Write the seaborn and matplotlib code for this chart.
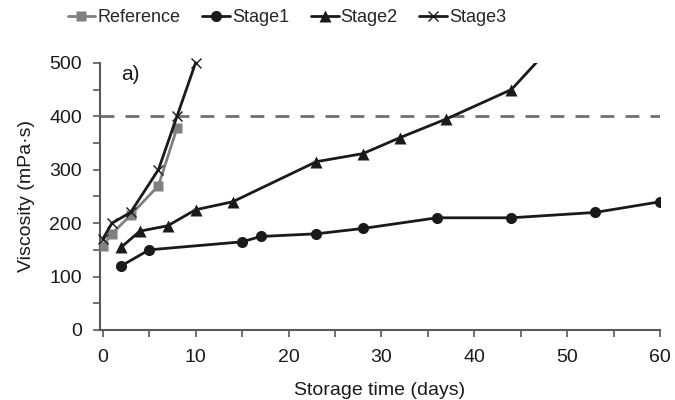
import matplotlib
matplotlib.use("Agg")
import matplotlib.pyplot as plt
import pandas as pd
import seaborn as sns

# valori
ref_days = [0, 1, 3, 6, 8]
ref_visc = [158, 180, 215, 270, 378]

s1_days = [2, 5, 15, 17, 23, 28, 36, 44, 53, 60]
s1_visc = [120, 150, 165, 175, 180, 190, 210, 210, 220, 240]

s2_days = [2, 4, 7, 10, 14, 23, 28, 32, 37, 44, 53]
s2_visc = [155, 185, 195, 225, 240, 315, 330, 360, 395, 450, 620]

s3_days = [0, 1, 3, 6, 8, 10]
s3_visc = [170, 200, 220, 300, 400, 500]

limit = 400

sns.set_theme(style="white")
plt.rcParams['font.family'] = ['Liberation Sans', 'DejaVu Sans']

fig = plt.figure(figsize=(6.75, 4), dpi=100)
ax = fig.add_axes([0.148, 0.175, 0.83, 0.668])

ax.axhline(limit, color='#707070', lw=2, ls=(0, (5, 4)), zorder=1)

series = [
    ('Reference', ref_days, ref_visc, 's', '#808080', 7),
    ('Stage1', s1_days, s1_visc, 'o', '#1a1a1a', 8),
    ('Stage2', s2_days, s2_visc, '^', '#1a1a1a', 8),
    ('Stage3', s3_days, s3_visc, 'x', '#1a1a1a', 7),
]
for name, d, v, m, c, ms in series:
    df = pd.DataFrame({'days': d, 'visc': v})
    if m == 'x':
        kw = dict(markeredgecolor=c, markeredgewidth=1.0, clip_on=False)
    else:
        kw = dict(markeredgecolor='none')
    sns.lineplot(data=df, x='days', y='visc', ax=ax, color=c, marker=m,
                 markersize=ms, lw=2, label=name, zorder=3, **kw)

ax.set_xlim(-0.3, 60)
ax.set_ylim(0, 500)
ax.set_xticks(range(0, 61, 10))
ax.set_xticks(range(0, 61, 5), minor=True)
ax.set_yticks(range(0, 501, 100))
ax.set_yticks(range(0, 501, 50), minor=True)
ax.tick_params(axis='both', which='both', direction='out', color='#595959',
               width=1.2, length=5, bottom=True, left=True, labelsize=14,
               labelcolor='#1a1a1a')
ax.tick_params(axis='x', which='major', pad=9)
ax.tick_params(axis='y', which='major', pad=8)
for s in ['top', 'right']:
    ax.spines[s].set_visible(False)
for s in ['left', 'bottom']:
    ax.spines[s].set_color('#595959')
    ax.spines[s].set_linewidth(1.5)

ax.set_xlabel('Storage time (days)', fontsize=14, color='#1a1a1a', labelpad=11)
ax.set_ylabel('Viscosity (mPa·s)', fontsize=14, color='#1a1a1a', labelpad=10)
ax.text(2, 478, 'a)', fontsize=15, color='#1a1a1a', va='center')

ax.legend(loc='center left', bbox_to_anchor=(0.1, 0.955), bbox_transform=fig.transFigure,
          ncol=4, frameon=False, borderpad=0, borderaxespad=0,
          fontsize=13, handlelength=1.55, handletextpad=0.1, columnspacing=1.2)

plt.savefig('out.png', dpi=100)
